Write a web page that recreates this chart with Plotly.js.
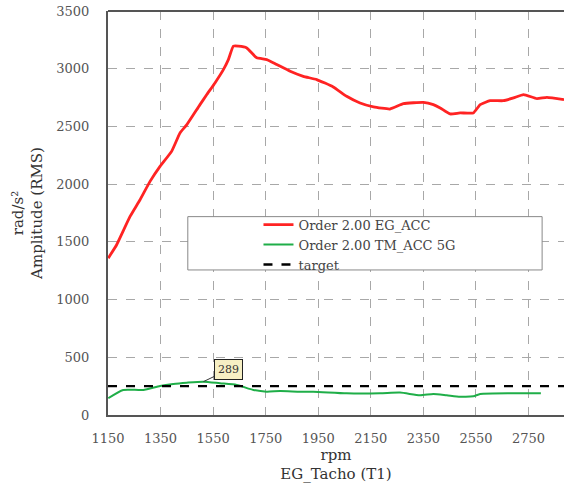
<!DOCTYPE html>
<html>
<head>
<meta charset="utf-8">
<script src="https://cdn.plot.ly/plotly-3.0.1.min.js"></script>
<style>html,body{margin:0;padding:0;background:#fff;}#chart{width:564px;height:486px;}</style>
</head>
<body>
<div id="chart"></div>
<script>
// Order 2.00 EG_ACC (red)
const egRpm = [1151,1183,1234,1272,1310,1348,1392,1424,1450,1500,1526,1557,1589,1608,1627,1646,1678,1716,1754,1792,1843,1893,1944,2007,2058,2109,2160,2223,2274,2350,2388,2414,2452,2490,2540,2566,2604,2654,2693,2731,2782,2820,2885];
const egVal = [1359,1475,1720,1865,2024,2154,2284,2443,2515,2689,2776,2877,2992,3079,3195,3195,3180,3094,3079,3036,2978,2934,2906,2842,2761,2703,2669,2651,2697,2709,2689,2660,2608,2617,2617,2689,2723,2723,2747,2776,2741,2752,2732];
// Order 2.00 TM_ACC 5G (green)
const tmRpm = [1151,1208,1284,1348,1398,1450,1513,1576,1640,1703,1754,1805,1881,1931,2058,2185,2261,2337,2388,2439,2490,2540,2566,2693,2797];
const tmVal = [145,217,217,252,269,280,289,275,260,217,202,208,202,202,188,188,194,171,182,171,159,162,182,188,188];
// target
const targetRpm = [1150,2885];
const targetVal = [250,250];
const peakLabel = {rpm:1513, val:289, text:'289'};
const xTicks = [1150,1350,1550,1750,1950,2150,2350,2550,2750];
const yTicks = [0,500,1000,1500,2000,2500,3000,3500];

const serif = 'DejaVu Serif, serif';
const traces = [
  {x: egRpm, y: egVal, type:'scatter', mode:'lines', name:'Order 2.00 EG_ACC',
   line:{color:'#ff2323', width:2.8, shape:'spline', smoothing:0.4}},
  {x: tmRpm, y: tmVal, type:'scatter', mode:'lines', name:'Order 2.00 TM_ACC 5G',
   line:{color:'#1fae48', width:2, shape:'spline', smoothing:0.6}},
  {x: targetRpm, y: targetVal, type:'scatter', mode:'lines', name:'target',
   line:{color:'#000', width:2.4, dash:'dash'}}
];
const layout = {
  width:564, height:486,
  margin:{l:108, r:0, t:11, b:71},
  paper_bgcolor:'#fff', plot_bgcolor:'#fff',
  font:{family:serif, color:'#333', size:13},
  xaxis:{range:[1150,2885], tickvals:xTicks, ticktext:xTicks.map(String),
    showgrid:true, gridcolor:'#a8a8a8', griddash:'dash', gridwidth:1,
    zeroline:false, showline:true, linecolor:'#555', linewidth:2,
    ticks:'outside', ticklen:10, tickcolor:'rgba(0,0,0,0)',
    tickfont:{family:serif, size:13, color:'#555'},
    title:{text:'rpm<br>EG_Tacho (T1)', font:{family:serif, size:15, color:'#333'}, standoff:3}},
  yaxis:{range:[0,3500], tickvals:yTicks, ticktext:yTicks.map(String),
    showgrid:true, gridcolor:'#a8a8a8', griddash:'dash', gridwidth:1,
    zeroline:false, showline:true, linecolor:'#555', linewidth:2,
    ticks:'outside', ticklen:14, tickcolor:'rgba(0,0,0,0)',
    tickfont:{family:serif, size:13, color:'#555'},
    title:{text:'rad/s²<br>Amplitude (RMS)', font:{family:serif, size:15, color:'#333'}, standoff:10}},
  showlegend:true,
  legend:{x:0.33, y:0.508, xanchor:'left', yanchor:'top', bgcolor:'rgba(0,0,0,0)',
    borderwidth:0, font:{family:serif, size:13, color:'#444'}, tracegroupgap:0},
  shapes:[
    {type:'rect', xref:'paper', yref:'paper', x0:0.175, x1:0.952, y0:0.359, y1:0.491,
     fillcolor:'#fff', line:{color:'#888', width:1}, layer:'above'},
    {type:'line', xref:'paper', yref:'paper', x0:0, x1:1, y0:1, y1:1,
     line:{color:'#555', width:2}}
  ],
  annotations:[
    {x:peakLabel.rpm, y:peakLabel.val, xref:'x', yref:'y', text:peakLabel.text,
     showarrow:true, arrowhead:0, arrowwidth:1, arrowcolor:'#333', ax:25, ay:-12,
     bgcolor:'#f6efc4', bordercolor:'#222', borderwidth:1, borderpad:3,
     font:{family:serif, size:11, color:'#333'}}
  ]
};
Plotly.newPlot('chart', traces, layout, {displayModeBar:false, staticPlot:true});
</script>
</body>
</html>
